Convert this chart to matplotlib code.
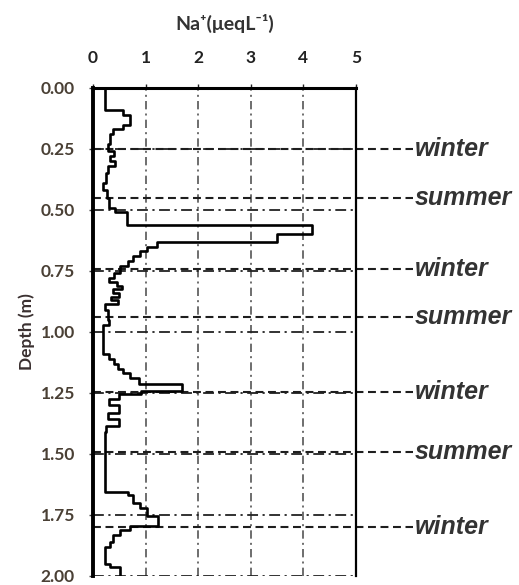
import matplotlib
matplotlib.use("Agg")
import matplotlib.pyplot as plt

# Na+ profile: depth of the top of each sample (m) and its value (ueq/L)
depth_top = [0.00, 0.09, 0.11, 0.15, 0.17, 0.19, 0.23, 0.26, 0.28, 0.30,
             0.32, 0.35, 0.39, 0.42, 0.45, 0.49, 0.51, 0.56, 0.60, 0.63,
             0.65, 0.67, 0.69, 0.71, 0.73, 0.76, 0.78, 0.795, 0.81, 0.825,
             0.84, 0.855, 0.87, 0.885, 0.91, 0.95, 0.97, 1.09, 1.11, 1.13,
             1.15, 1.17, 1.19, 1.215, 1.24, 1.255, 1.275, 1.30, 1.33, 1.355,
             1.385, 1.41, 1.655, 1.67, 1.70, 1.72, 1.755, 1.795, 1.81, 1.83,
             1.86, 1.88, 1.95, 1.965]
na = [0.23, 0.57, 0.70, 0.57, 0.38, 0.32, 0.28, 0.40, 0.33, 0.42,
      0.28, 0.24, 0.19, 0.26, 0.30, 0.42, 0.65, 4.17, 3.50, 1.22,
      1.03, 0.90, 0.77, 0.67, 0.51, 0.40, 0.30, 0.46, 0.55, 0.38,
      0.50, 0.35, 0.48, 0.23, 0.28, 0.31, 0.20, 0.30, 0.40, 0.48,
      0.58, 0.70, 0.88, 1.69, 0.92, 0.50, 0.30, 0.50, 0.28, 0.50,
      0.25, 0.23, 0.67, 0.77, 0.90, 1.02, 1.24, 0.70, 0.51, 0.38,
      0.32, 0.23, 0.32, 0.51]
depth_bottom = 2.00

season_depth = [0.25, 0.45, 0.74, 0.94, 1.245, 1.49, 1.80]
season_label = ["winter", "summer", "winter", "summer", "winter", "summer", "winter"]

xticks = [0, 1, 2, 3, 4, 5]
yticks = [0.00, 0.25, 0.50, 0.75, 1.00, 1.25, 1.50, 1.75, 2.00]

plt.rcParams["font.family"] = ["Lato", "DejaVu Sans"]

fig = plt.figure(figsize=(5.19, 5.85), dpi=100)
ax = fig.add_axes([0.179, 0.0154, 0.507, 0.8342])

# season markers, running out past the right edge
for d, lab in zip(season_depth, season_label):
    ax.axhline(d, xmin=0, xmax=1.217, color="#1e1e1e", lw=1.5,
               ls=(0, (3.8, 2.2)), clip_on=False, zorder=2)
    ax.text(1.222, d, lab, transform=ax.get_yaxis_transform(),
            family=["Liberation Sans", "DejaVu Sans"], style="italic",
            fontweight="bold", fontsize=18, color="#333333",
            va="center", ha="left")

ax.plot(na + [na[-1]], depth_top + [depth_bottom], drawstyle="steps-pre",
        color="black", lw=1.9, zorder=4)

ax.set_xlim(0, 5)
ax.set_ylim(2.0, 0.0)
ax.set_xticks(xticks)
ax.set_yticks(yticks)
ax.set_yticklabels(["%.2f" % t for t in yticks])

ax.xaxis.tick_top()
ax.xaxis.set_label_position("top")
ax.set_xlabel("Na\u207a(\u03bceqL\u207b\u00b9)", fontsize=14, fontweight="bold",
              color="#333333", labelpad=14)
ax.set_ylabel("Depth (m)", fontsize=12.5, fontweight="bold", color="#3a3030",
              labelpad=4)

ax.tick_params(axis="x", length=3, width=1, pad=13, labelsize=12.5,
               labelcolor="#222222", colors="#222222")
ax.tick_params(axis="y", length=3, width=1, pad=10, labelsize=12.5,
               labelcolor="#4a4035", colors="#444444")
for lab in ax.get_xticklabels() + ax.get_yticklabels():
    lab.set_fontweight("bold")

ax.xaxis.grid(True, color="#555555", lw=1.2, ls=(0, (5, 2.5, 1.2, 2.5)))
ax.yaxis.grid(True, color="#222222", lw=1.3, ls=(0, (6, 2.5, 1.2, 2.5)))
ax.set_axisbelow(True)

ax.spines["top"].set_linewidth(2.2)
ax.spines["right"].set_linewidth(1.6)
ax.spines["left"].set_linewidth(2.8)
ax.spines["bottom"].set_visible(False)

fig.savefig("out.png", dpi=100)
